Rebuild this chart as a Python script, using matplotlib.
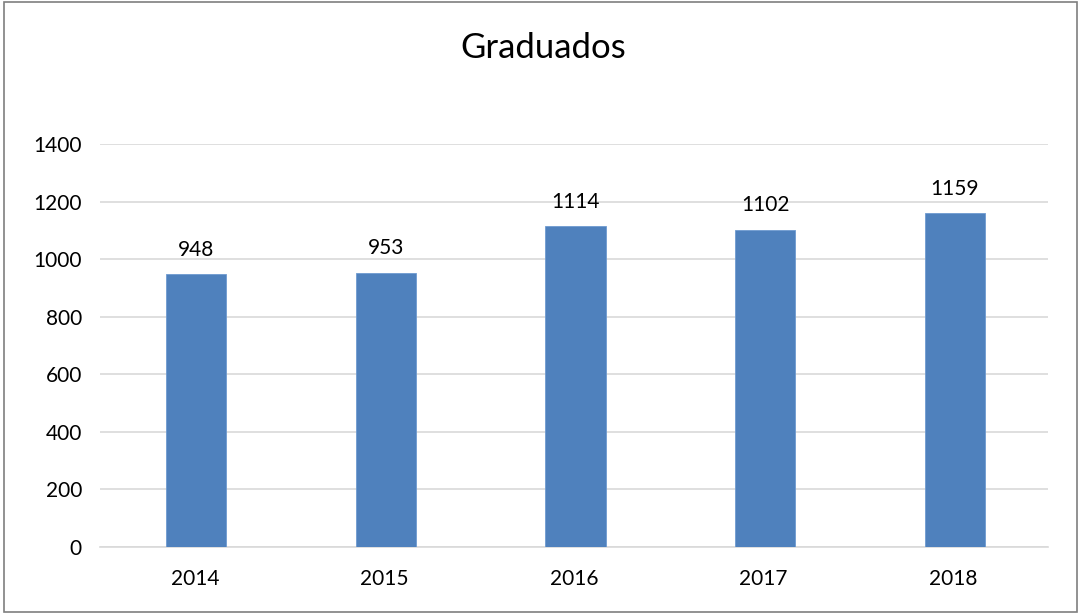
import matplotlib.pyplot as plt
from matplotlib.patches import Rectangle

years = ["2014", "2015", "2016", "2017", "2018"]
graduados = [948, 953, 1114, 1102, 1159]
yticks = [0, 200, 400, 600, 800, 1000, 1200, 1400]

plt.rcParams['font.family'] = ['Lato', 'DejaVu Sans']

fig = plt.figure(figsize=(10.79, 6.13), dpi=100)
ax = fig.add_axes([100 / 1079, 1 - 547 / 613, 948 / 1079, 403 / 613])

x = range(len(years))
bars = ax.bar([i + 0.008 for i in x], graduados, width=0.317, color="#4F81BD",
              edgecolor="#6E9AD0", linewidth=0.6, zorder=3)
for b, v in zip(bars, graduados):
    ax.text(b.get_x() + b.get_width() / 2, v + 50, str(v), ha="center", va="bottom",
            fontsize=15, color="#000000")

ax.set_xlim(-0.5, len(years) - 0.5)
ax.set_ylim(0, 1400)
ax.set_yticks(yticks)
ax.set_xticks(list(x))
ax.set_xticklabels(years)
ax.yaxis.grid(True, color="#D9D9D9", linewidth=1.2, zorder=0)
for s in ["top", "right", "left"]:
    ax.spines[s].set_visible(False)
ax.spines["bottom"].set_color("#D9D9D9")
ax.spines["bottom"].set_linewidth(1.2)
ax.tick_params(axis="both", length=0, labelsize=15, colors="#000000")
ax.tick_params(axis="y", pad=13)
ax.tick_params(axis="x", pad=16)

fig.text(543 / 1079, 1 - 48 / 613, "Graduados", ha="center", va="center", fontsize=25)

fig.patches.append(Rectangle((4 / 1079, 1 / 613), 1073 / 1079, 610 / 613,
                             transform=fig.transFigure, fill=False,
                             edgecolor="#7F7F7F", linewidth=1.2))

fig.savefig("out.png", dpi=100)
